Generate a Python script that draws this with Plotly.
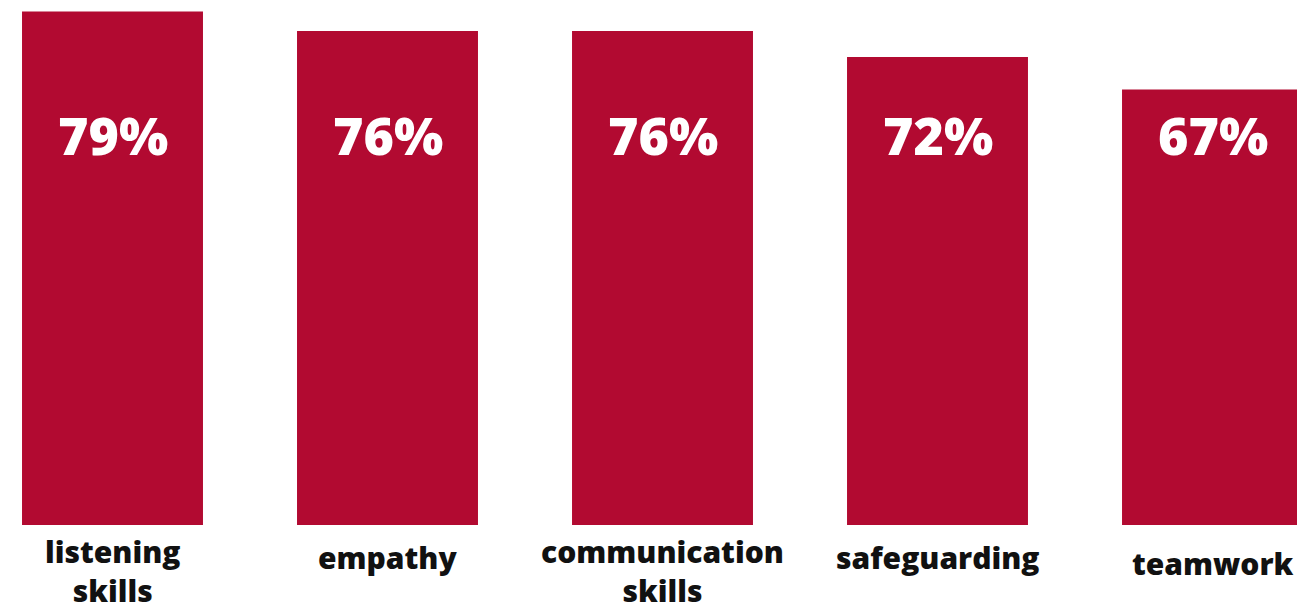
import plotly.graph_objects as go

categories = ["listening skills", "empathy", "communication skills", "safeguarding", "teamwork"]
tick_labels = ["listening<br>skills", "empathy", "communication<br>skills", "safeguarding", "teamwork"]
values = [79, 76, 76, 72, 67]
value_labels = ["79%", "76%", "76%", "72%", "67%"]

BAR = "#B20A31"
FONT = "Open Sans"

fig = go.Figure()
fig.add_trace(go.Bar(
    x=list(range(len(categories))),
    y=values,
    width=0.658,
    marker=dict(color=BAR, line=dict(width=0)),
    hoverinfo="skip",
))

label_shift = [-46, -32, -46, -32, -38]
for i, (t, v) in enumerate(zip(tick_labels, value_labels)):
    fig.add_annotation(x=i, y=0, xref="x", yref="y", text=t, showarrow=False,
                       yanchor="middle", yshift=label_shift[i],
                       font=dict(family=FONT, size=30, color="#111111", weight=800))
    fig.add_annotation(x=i, y=1, xref="x", yref="paper", text=v, showarrow=False,
                       yanchor="middle", yshift=-134,
                       font=dict(family=FONT, size=52, color="white", weight=800))

fig.update_layout(
    width=1297, height=610,
    margin=dict(l=0, r=0, t=0, b=85),
    paper_bgcolor="white", plot_bgcolor="white",
    showlegend=False,
    xaxis=dict(range=[-112.5/275, (1297-112.5)/275], visible=False),
    yaxis=dict(range=[0, 525/6.5], visible=False),
)
fig.write_html("out.html", config={"displayModeBar": False},
               post_script="document.body.style.margin='0';document.body.style.overflow='hidden';")
